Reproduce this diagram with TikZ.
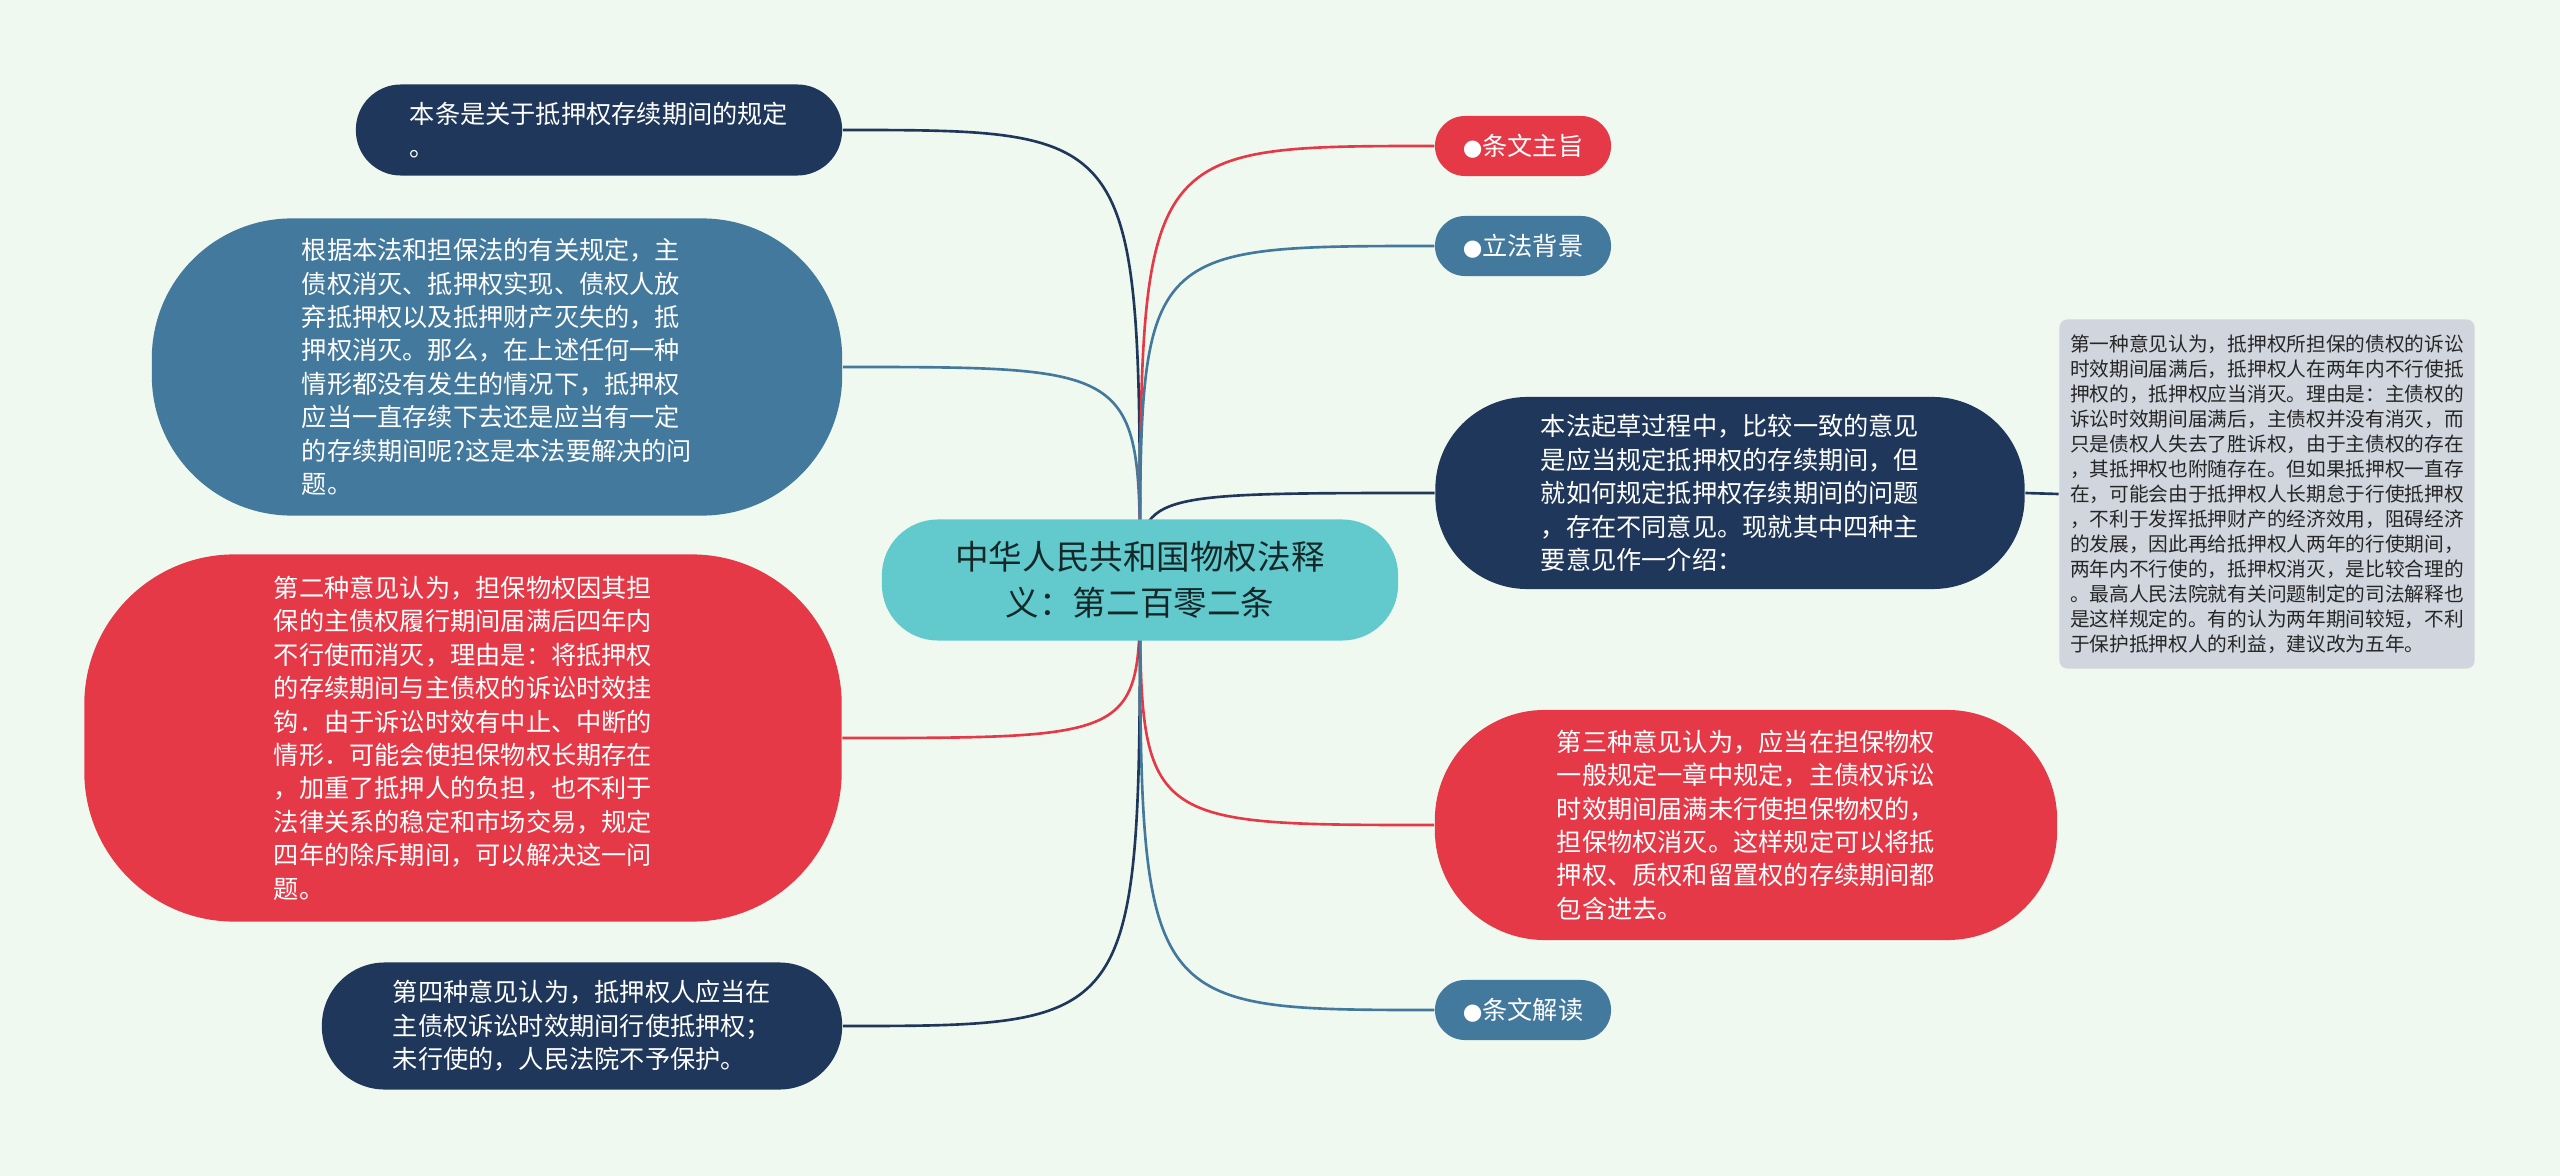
\documentclass[tikz,border=0pt]{standalone}
\usepackage{fontspec}
\setmainfont{Noto Sans CJK SC}
\newfontfamily\dotfont{DejaVu Sans}
\usetikzlibrary{backgrounds}

\definecolor{mbg}{HTML}{F0F9EF}
\definecolor{mnavy}{HTML}{1F375A}
\definecolor{msteel}{HTML}{43799D}
\definecolor{mrose}{HTML}{E53948}
\definecolor{mteal}{HTML}{62CACD}
\definecolor{mgrey}{HTML}{D1D6DE}

\newcommand{\bul}{{\dotfont\fontsize{6.4}{6.4}\selectfont ●}}

\tikzset{
  topic/.style={fill=mteal, text=black!80!mteal, inner sep=0pt, align=center,
    minimum width=5.16cm, minimum height=1.21cm, rounded corners=0.56cm,
    font=\fontsize{9.55}{13.2}\selectfont},
  card/.style={fill=#1, text=white, inner sep=0pt, align=left,
    font=\fontsize{7.17}{9.5}\selectfont},
  tag/.style={card=#1, align=center, minimum width=1.76cm, minimum height=0.6cm,
    rounded corners=0.3cm},
  note/.style={fill=mgrey, text=black!85, inner sep=0pt, align=left,
    minimum width=4.15cm, minimum height=3.49cm, rounded corners=0.08cm,
    font=\fontsize{5.6}{7.1}\selectfont},
  link/.style={line width=0.75pt}
}

\begin{document}
\begin{tikzpicture}[x=0.01cm, y=-0.01cm]
  \useasboundingbox (0,0) rectangle (2560,1176);

  % centre
  \node[topic] (m) at (1140,580) {中华人民共和国物权法释\\义：第二百零二条};

  % left branches
  \node[card=mnavy, minimum width=4.86cm, minimum height=0.91cm, rounded corners=0.45cm] (n1) at (599,130)
    {本条是关于抵押权存续期间的规定\\。};
  \node[card=msteel, minimum width=6.9cm, minimum height=2.97cm, rounded corners=1.4cm] (n2) at (497,367)
    {根据本法和担保法的有关规定，主\\债权消灭、抵押权实现、债权人放\\弃抵押权以及抵押财产灭失的，抵\\押权消灭。那么，在上述任何一种\\情形都没有发生的情况下，抵押权\\应当一直存续下去还是应当有一定\\的存续期间呢?这是本法要解决的问\\题。};
  \node[card=mrose, minimum width=7.57cm, minimum height=3.67cm, rounded corners=1.5cm] (n3) at (463,738)
    {第二种意见认为，担保物权因其担\\保的主债权履行期间届满后四年内\\不行使而消灭，理由是：将抵押权\\的存续期间与主债权的诉讼时效挂\\钩．由于诉讼时效有中止、中断的\\情形．可能会使担保物权长期存在\\，加重了抵押人的负担，也不利于\\法律关系的稳定和市场交易，规定\\四年的除斥期间，可以解决这一问\\题。};
  \node[card=mnavy, minimum width=5.2cm, minimum height=1.27cm, rounded corners=0.63cm] (n4) at (582,1026)
    {第四种意见认为，抵押权人应当在\\主债权诉讼时效期间行使抵押权；\\未行使的，人民法院不予保护。};

  % right branches
  \node[tag=mrose] (r1) at (1523,146) {\bul 条文主旨};
  \node[tag=msteel] (r2) at (1523,246) {\bul 立法背景};
  \node[card=mnavy, minimum width=5.89cm, minimum height=1.92cm, rounded corners=0.92cm] (r3) at (1730,493)
    {本法起草过程中，比较一致的意见\\是应当规定抵押权的存续期间，但\\就如何规定抵押权存续期间的问题\\，存在不同意见。现就其中四种主\\要意见作一介绍：};
  \node[note] (g) at (2267,494)
    {第一种意见认为，抵押权所担保的债权的诉讼\\时效期间届满后，抵押权人在两年内不行使抵\\押权的，抵押权应当消灭。理由是：主债权的\\诉讼时效期间届满后，主债权并没有消灭，而\\只是债权人失去了胜诉权，由于主债权的存在\\，其抵押权也附随存在。但如果抵押权一直存\\在，可能会由于抵押权人长期怠于行使抵押权\\，不利于发挥抵押财产的经济效用，阻碍经济\\的发展，因此再给抵押权人两年的行使期间，\\两年内不行使的，抵押权消灭，是比较合理的\\。最高人民法院就有关问题制定的司法解释也\\是这样规定的。有的认为两年期间较短，不利\\于保护抵押权人的利益，建议改为五年。};
  \node[card=mrose, minimum width=6.22cm, minimum height=2.3cm, rounded corners=1.1cm] (r4) at (1746,825)
    {第三种意见认为，应当在担保物权\\一般规定一章中规定，主债权诉讼\\时效期间届满未行使担保物权的，\\担保物权消灭。这样规定可以将抵\\押权、质权和留置权的存续期间都\\包含进去。};
  \node[tag=msteel] (r5) at (1523,1010) {\bul 条文解读};

  % connectors
  \begin{scope}[on background layer]
    \fill[mbg] (0,0) rectangle (2560,1176);
    \foreach \t/\c in {n1/mnavy, n2/msteel, n3/mrose, n4/mnavy}
      \draw[link, \c] (m.center) .. controls (m.center |- \t.east) .. (\t.east);
    \foreach \t/\c in {r1/mrose, r2/msteel, r3/mnavy, r4/mrose, r5/msteel}
      \draw[link, \c] (m.center) .. controls (m.center |- \t.west) .. (\t.west);
    \draw[link, mnavy] (r3.east) -- (g.west);
  \end{scope}
\end{tikzpicture}
\end{document}
